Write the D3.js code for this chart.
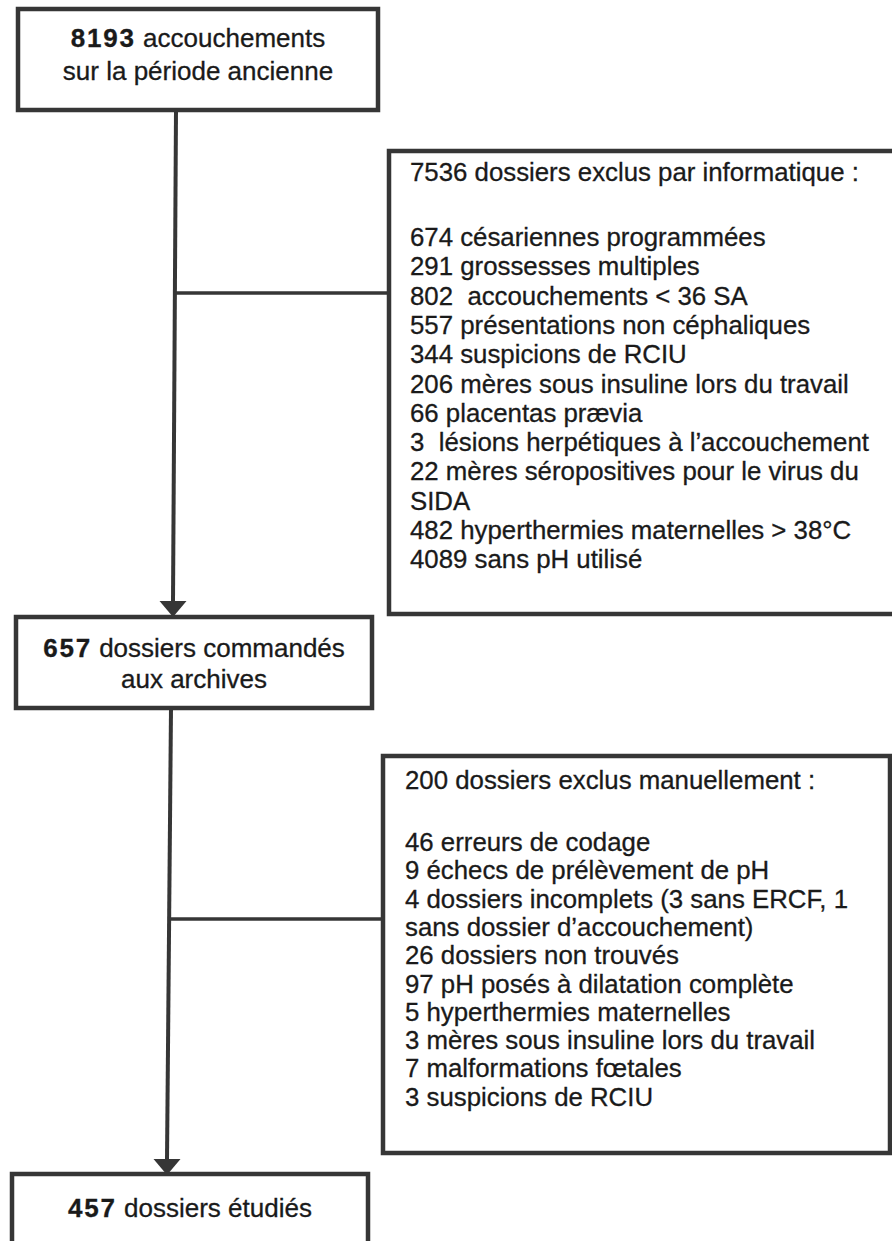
<!DOCTYPE html>
<html>
<head>
<meta charset="utf-8">
<script src="https://cdn.jsdelivr.net/npm/d3@7"></script>
<style>
  body { margin: 0; background: #fff; }
  svg { display: block; }
</style>
</head>
<body>
<div id="container"></div>
<script>
// flowchart content
const mainCounts = [8193, 657, 457];
const mainLabels = [
    ["accouchements", "sur la période ancienne"],
    ["dossiers commandés", "aux archives"],
    ["dossiers étudiés"]
];

const exclusionTitles = [
    "7536 dossiers exclus par informatique :",
    "200 dossiers exclus manuellement :"
];

const exclusionsInfo = [
    "674 césariennes programmées",
    "291 grossesses multiples",
    "802  accouchements < 36 SA",
    "557 présentations non céphaliques",
    "344 suspicions de RCIU",
    "206 mères sous insuline lors du travail",
    "66 placentas prævia",
    "3  lésions herpétiques à l\u2019accouchement",
    "22 mères séropositives pour le virus du",
    "SIDA",
    "482 hyperthermies maternelles > 38°C",
    "4089 sans pH utilisé"
];

const exclusionsManual = [
    "46 erreurs de codage",
    "9 échecs de prélèvement de pH",
    "4 dossiers incomplets (3 sans ERCF, 1",
    "sans dossier d\u2019accouchement)",
    "26 dossiers non trouvés",
    "97 pH posés à dilatation complète",
    "5 hyperthermies maternelles",
    "3 mères sous insuline lors du travail",
    "7 malformations fœtales",
    "3 suspicions de RCIU"
];

const width = 892;
const height = 1241;
const ink = "#363636";
const textInk = "#1a1a1a";
const font = "'Liberation Sans', Arial, sans-serif";

const svg = d3.create("svg")
    .attr("width", width)
    .attr("height", height)
    .attr("viewBox", [0, 0, width, height])
    .style("font-family", font);

// main boxes layout
const mainBoxes = [
    { x: 18, y: 9, w: 360, h: 101, baselines: [47, 80] },
    { x: 16, y: 617, w: 356, h: 91, baselines: [657, 688] },
    { x: 12, y: 1174, w: 356, h: 90, baselines: [1217] }
];

// exclusion boxes layout
const sideBoxes = [
    { x: 389, y: 151, w: 520, h: 463, tx: 410, titleY: 181, listY: 246, step: 29.3, link: 293, lines: exclusionsInfo },
    { x: 383, y: 756, w: 507, h: 397, tx: 405, titleY: 789, listY: 851, step: 28.3, link: 919, lines: exclusionsManual }
];

const lineG = svg.append("g")
    .attr("stroke", ink)
    .attr("fill", "none");

// vertical trunk + arrows (the scan is slightly tilted)
const trunk = [
    { x1: 176, y1: 110, x2: 173, y2: 602 },
    { x1: 171, y1: 708, x2: 167, y2: 1160 }
];

lineG.selectAll("line.trunk")
    .data(trunk)
    .join("line")
    .attr("class", "trunk")
    .attr("x1", d => d.x1).attr("y1", d => d.y1)
    .attr("x2", d => d.x2).attr("y2", d => d.y2)
    .attr("stroke-width", 4);

svg.append("g")
    .selectAll("path")
    .data(trunk)
    .join("path")
    .attr("fill", ink)
    .attr("d", d => `M${d.x2 - 13.5},${d.y2 - 1} L${d.x2 + 13.5},${d.y2 - 1} L${d.x2},${d.y2 + 15} Z`);

// connectors to the side boxes
lineG.selectAll("line.link")
    .data(sideBoxes)
    .join("line")
    .attr("class", "link")
    .attr("x1", (d, i) => trunk[i].x1 + (trunk[i].x2 - trunk[i].x1) * (d.link - trunk[i].y1) / (trunk[i].y2 - trunk[i].y1))
    .attr("x2", d => d.x)
    .attr("y1", d => d.link)
    .attr("y2", d => d.link)
    .attr("stroke-width", 3.5);

// main boxes
const main = svg.append("g")
    .selectAll("g")
    .data(mainBoxes)
    .join("g");

main.append("rect")
    .attr("x", d => d.x).attr("y", d => d.y)
    .attr("width", d => d.w).attr("height", d => d.h)
    .attr("fill", "#fff")
    .attr("stroke", ink)
    .attr("stroke-width", 4.5);

main.each(function (d, i) {
    const g = d3.select(this);
    const cx = d.x + d.w / 2;
    mainLabels[i].forEach((label, j) => {
        const t = g.append("text")
            .attr("x", cx)
            .attr("y", d.baselines[j])
            .attr("text-anchor", "middle")
            .attr("fill", textInk)
            .attr("stroke", textInk)
            .attr("stroke-width", 0.3)
            .attr("font-size", 26);
        if (j === 0) {
            // bold count looks a bit wider in the original
            t.append("tspan")
                .attr("font-weight", "bold")
                .attr("letter-spacing", 1.8)
                .text(mainCounts[i]);
            t.append("tspan").text(" " + label);
        } else {
            t.text(label);
        }
    });
});

// side boxes
const side = svg.append("g")
    .selectAll("g")
    .data(sideBoxes)
    .join("g");

side.append("rect")
    .attr("x", d => d.x).attr("y", d => d.y)
    .attr("width", d => d.w).attr("height", d => d.h)
    .attr("fill", "#fff")
    .attr("stroke", ink)
    .attr("stroke-width", 4.5);

side.append("text")
    .attr("x", d => d.tx)
    .attr("y", d => d.titleY)
    .attr("fill", textInk)
    .attr("stroke", textInk)
    .attr("stroke-width", 0.3)
    .attr("font-size", 25.8)
    .text((d, i) => exclusionTitles[i]);

side.each(function (d) {
    const y = d3.scaleLinear()
        .domain([0, 1])
        .range([d.listY, d.listY + d.step]);
    d3.select(this).selectAll("text.item")
        .data(d.lines)
        .join("text")
        .attr("class", "item")
        .attr("x", d.tx)
        .attr("y", (_, k) => y(k))
        .attr("fill", textInk)
        .attr("stroke", textInk)
        .attr("stroke-width", 0.3)
        .attr("font-size", 25.8)
        .attr("xml:space", "preserve")
        .style("white-space", "pre")
        .text(s => s);
});

document.getElementById("container").appendChild(svg.node());
</script>
</body>
</html>
